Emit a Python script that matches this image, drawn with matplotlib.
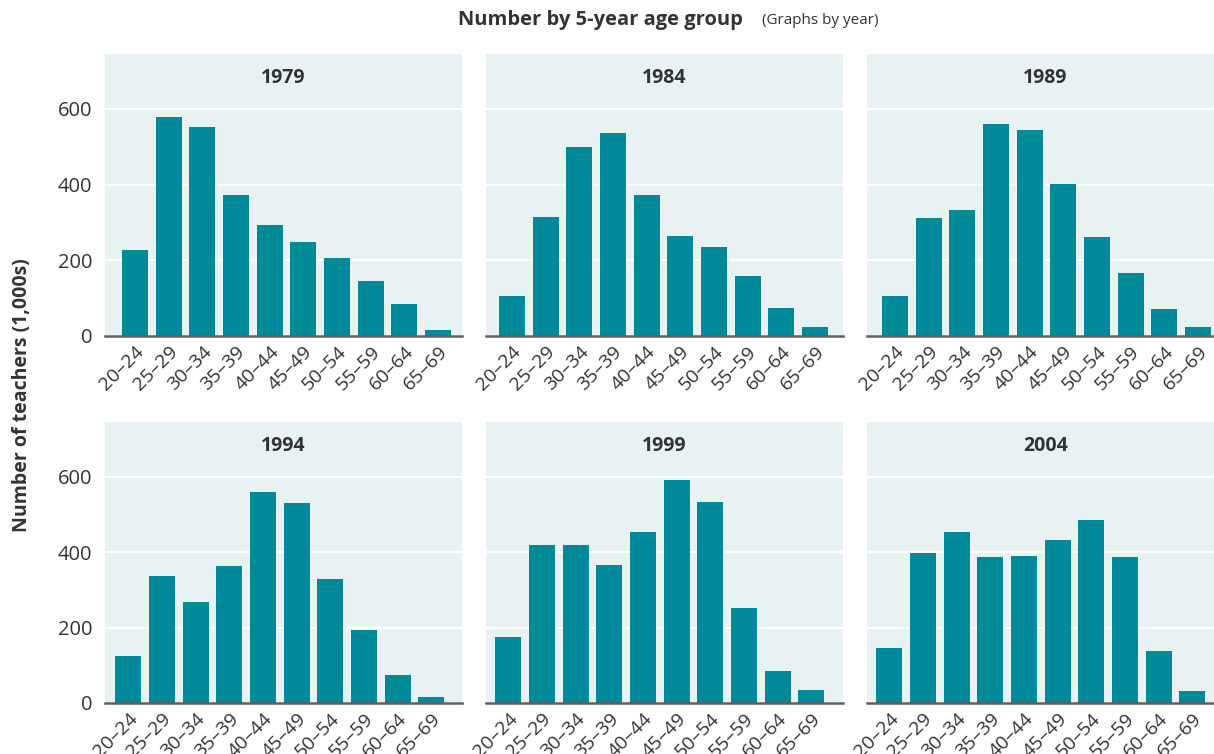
import matplotlib.pyplot as plt
import numpy as np

plt.rcParams["font.family"] = ["Open Sans", "DejaVu Sans"]

age_groups = ["20–24", "25–29", "30–34", "35–39", "40–44",
              "45–49", "50–54", "55–59", "60–64", "65–69"]
years = ["1979", "1984", "1989", "1994", "1999", "2004"]

teachers_1979 = [227, 579, 553, 373, 293, 248, 206, 146, 84, 15]
teachers_1984 = [105, 315, 500, 537, 373, 264, 235, 158, 73, 23]
teachers_1989 = [105, 312, 333, 561, 545, 402, 262, 166, 71, 23]
teachers_1994 = [124, 338, 269, 364, 560, 530, 330, 193, 74, 16]
teachers_1999 = [174, 420, 420, 367, 454, 591, 533, 253, 84, 34]
teachers_2004 = [147, 398, 454, 388, 391, 432, 484, 388, 137, 31]

series = [teachers_1979, teachers_1984, teachers_1989,
          teachers_1994, teachers_1999, teachers_2004]

BAR = "#008a99"
PANEL_BG = "#e8f2f3"
TEXT = "#333333"

W, H = 1214, 754
fig = plt.figure(figsize=(W / 100, H / 100), dpi=100)

col_left = [105, 486, 867]
panel_w = 357
row_zero = [336, 703]
row_top = [54, 422]
left_pad = [0.89, 0.77, 0.83, 0.69, 0.66, 0.66]

x = np.arange(len(age_groups))

for i, (year, vals) in enumerate(zip(years, series)):
    r, c = divmod(i, 3)
    left = col_left[c] / W
    bottom = (H - row_zero[r]) / H
    height = (row_zero[r] - row_top[r]) / H
    ax = fig.add_axes([left, bottom, panel_w / W, height])
    ax.set_facecolor(PANEL_BG)
    ax.bar(x, vals, width=0.77, color=BAR, zorder=2)

    ax.set_ylim(0, 745)
    ax.set_xlim(-left_pad[i], -left_pad[i] + 10.6)
    ax.set_yticks([0, 200, 400, 600])
    ax.yaxis.grid(True, color="white", linewidth=1.6, zorder=1)
    ax.set_axisbelow(True)

    for side in ["top", "right", "left"]:
        ax.spines[side].set_visible(False)
    ax.spines["bottom"].set_color("#5f5f5f")
    ax.spines["bottom"].set_linewidth(1.8)
    ax.spines["bottom"].set_zorder(3)

    ax.tick_params(axis="both", length=0, colors=TEXT, labelsize=14.5)
    ax.tick_params(axis="y", pad=9)
    ax.tick_params(axis="x", pad=5)
    ax.set_xticks(x)
    ax.set_xticklabels(age_groups, rotation=45, ha="right",
                       rotation_mode="anchor", fontsize=14, color=TEXT)
    if c != 0:
        ax.set_yticklabels([])

    ax.text(0.5, 0.915, year, transform=ax.transAxes, ha="center",
            va="center", fontsize=14, fontweight="bold", color=TEXT)

fig.text(600 / W, 1 - 20 / H, "Number by 5-year age group", ha="center",
         va="center", fontsize=14.5, fontweight="bold", color=TEXT)
fig.text(762 / W, 1 - 21 / H, "(Graphs by year)", ha="left",
         va="center", fontsize=11, color=TEXT)
fig.text(22 / W, 1 - 395 / H, "Number of teachers (1,000s)", rotation=90,
         ha="center", va="center", fontsize=14, fontweight="bold", color=TEXT)

fig.savefig("out.png", dpi=100)
